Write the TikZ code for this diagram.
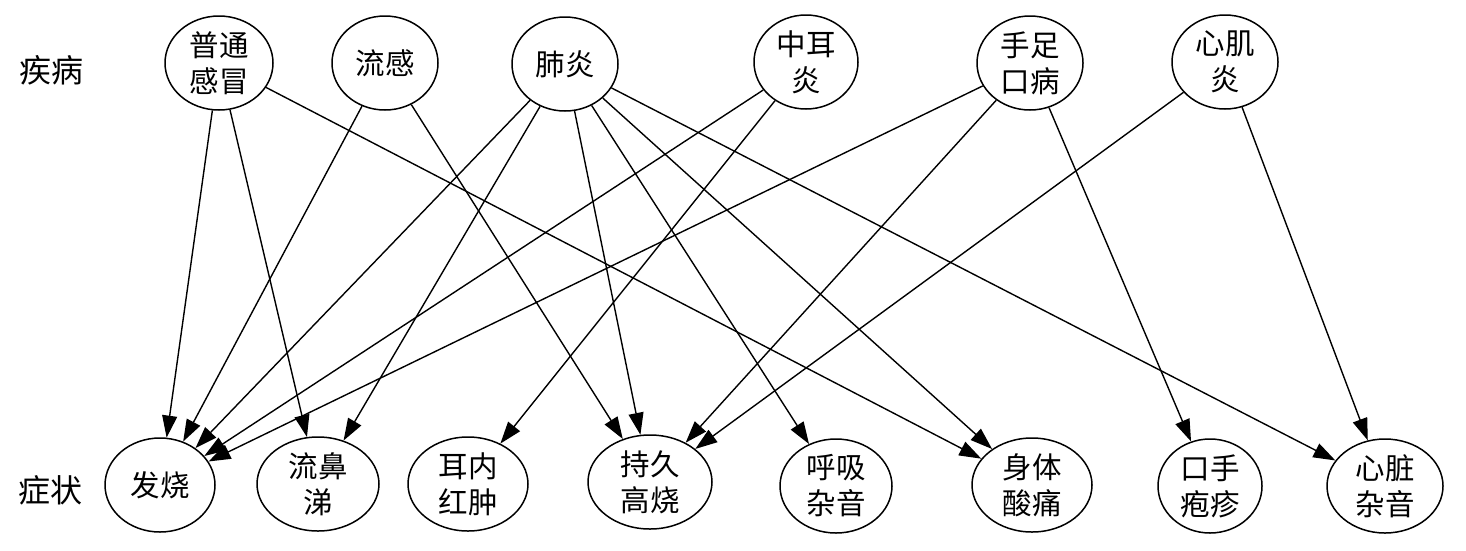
\documentclass[tikz,border=0pt]{standalone}
\usepackage{fontspec}
\newfontfamily\cjk{Noto Sans CJK SC}
\usetikzlibrary{shapes.geometric,arrows.meta}
\begin{document}
\begin{tikzpicture}[x=1pt,y=-1pt,
  every node/.style={font=\cjk\fontsize{29.5}{36}\selectfont},
  ell/.style={draw, line width=1.5pt, ellipse, inner sep=0pt, align=center, minimum height=94pt},
  edge/.style={line width=1.4pt, -{Triangle[length=22pt,width=15pt]}},
  lbl/.style={inner sep=0pt, font=\cjk\fontsize{32}{36}\selectfont}]
\useasboundingbox (0,0) rectangle (1466,550);
% labels
\node[lbl] (jb) at (51,70) {疾病};
\node[lbl] (zz) at (50,490) {症状};
% diseases
\node[ell, minimum width=108pt] (d1) at (219,63) {普通\\感冒};
\node[ell, minimum width=106pt] (d2) at (385,63) {流感};
\node[ell, minimum width=106pt] (d3) at (565,64) {肺炎};
\node[ell, minimum width=104pt] (d4) at (806,62) {中耳\\炎};
\node[ell, minimum width=106pt] (d5) at (1030,63) {手足\\口病};
\node[ell, minimum width=106pt] (d6) at (1225,62) {心肌\\炎};
% symptoms
\node[ell, minimum width=110pt] (s1) at (160,485) {发烧};
\node[ell, minimum width=122pt] (s2) at (318,484) {流鼻\\涕};
\node[ell, minimum width=120pt] (s3) at (468,484) {耳内\\红肿};
\node[ell, minimum width=124pt] (s4) at (650,482) {持久\\高烧};
\node[ell, minimum width=112pt] (s5) at (836,486) {呼吸\\杂音};
\node[ell, minimum width=120pt] (s6) at (1032,485) {身体\\酸痛};
\node[ell, minimum width=104pt] (s7) at (1210,486) {口手\\疱疹};
\node[ell, minimum width=116pt] (s8) at (1385,486) {心脏\\杂音};
% edges
\draw[edge] (d1) -- (s1);
\draw[edge] (d1) -- (s2);
\draw[edge] (d1) -- (s6);
\draw[edge] (d2) -- (s1);
\draw[edge] (d2) -- (s4);
\draw[edge] (d3) -- (s1);
\draw[edge] (d3) -- (s2);
\draw[edge] (d3) -- (s4);
\draw[edge] (d3) -- (s5);
\draw[edge] (d3) -- (s6);
\draw[edge] (d3) -- (s8);
\draw[edge] (d4) -- (s1);
\draw[edge] (d4) -- (s3);
\draw[edge] (d5) -- (s1);
\draw[edge] (d5) -- (s4);
\draw[edge] (d5) -- (s7);
\draw[edge] (d6) -- (s4);
\draw[edge] (d6) -- (s8);
\end{tikzpicture}
\end{document}
